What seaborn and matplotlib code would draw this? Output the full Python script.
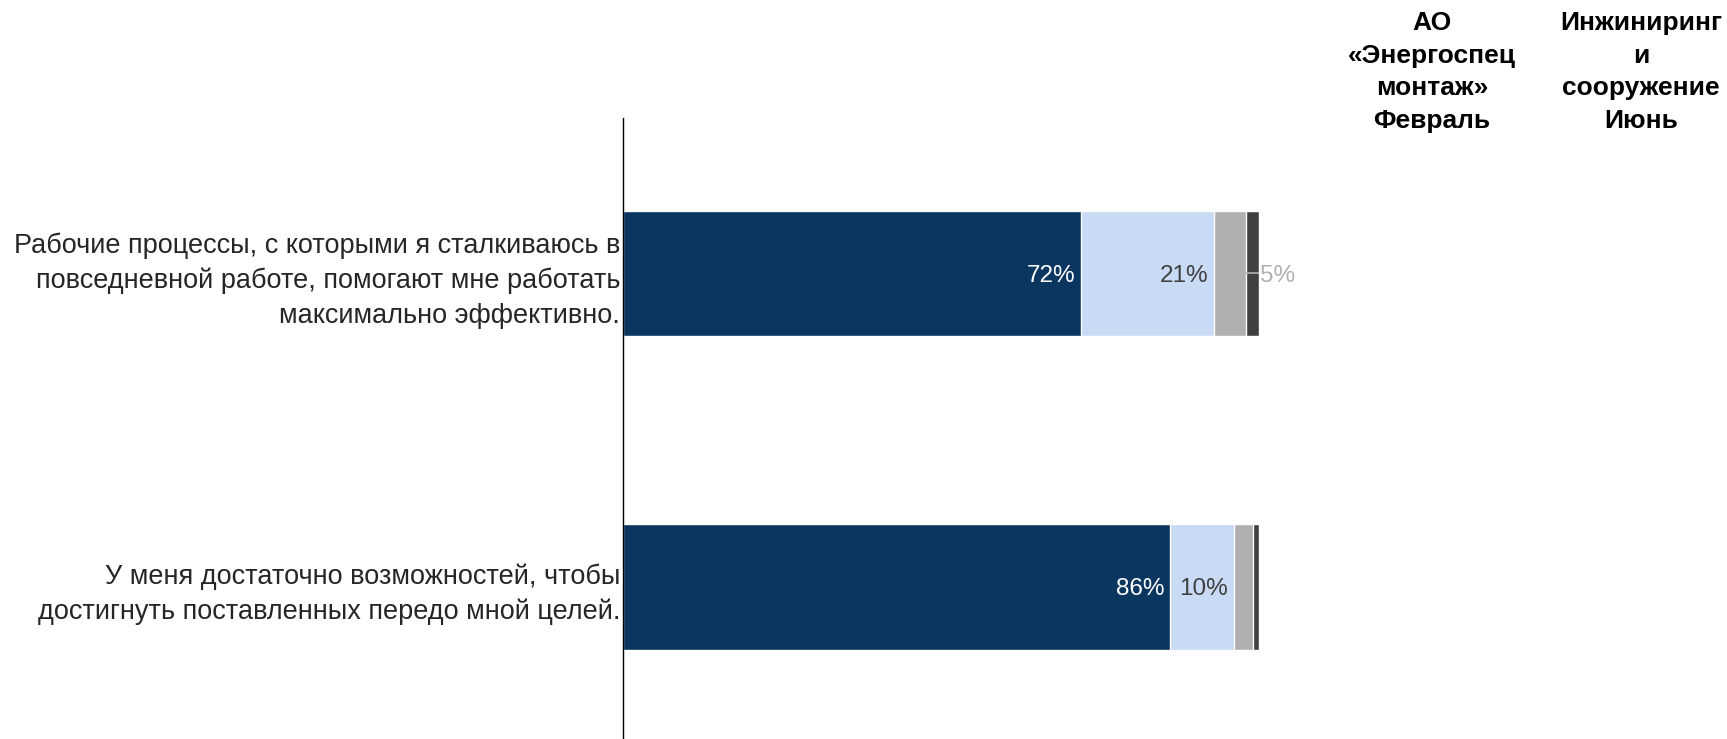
import matplotlib
matplotlib.use("Agg")
import matplotlib.pyplot as plt
import seaborn as sns
import pandas as pd
import numpy as np

sns.set_theme(style="white")
plt.rcParams["font.family"] = ["Liberation Sans", "DejaVu Sans"]

questions = [
    "Рабочие процессы, с которыми я сталкиваюсь в\nповседневной работе, помогают мне работать\nмаксимально эффективно.",
    "У меня достаточно возможностей, чтобы\nдостигнуть поставленных передо мной целей.",
]
agree = [72, 86]
neutral = [21, 10]
disagree = [5, 3]
strongly_disagree = [2, 1]

column_headers = ["АО\n«Энергоспец\nмонтаж»\nФевраль", "Инжиниринг\nи\nсооружение\nИюнь"]

segments = [agree, neutral, disagree, strongly_disagree]
colors = ["#0b3660", "#c9daf5", "#b0b0b0", "#404040"]
text_colors = ["white", "#404040", "#b0b0b0", "#b0b0b0"]

fig = plt.figure(figsize=(17.27, 7.39), dpi=100)
ax = fig.add_axes([623 / 1727, 0.0, (1259 - 623) / 1727, 1 - 118 / 739])

cum = np.cumsum(np.array(segments), axis=0)
df = pd.DataFrame({"question": questions})

# Stacked bars: draw the widest cumulative total first, then overlay the shorter ones
for i in reversed(range(len(segments))):
    df["value"] = cum[i]
    sns.barplot(data=df, x="value", y="question", color=colors[i], orient="h",
                width=0.4, edgecolor="white", linewidth=1, saturation=1, ax=ax)

ax.set_xlim(0, 100)
ax.set_ylim(1.485, -0.496)
ax.set_xlabel("")
ax.set_ylabel("")
ax.set_xticks([])
ax.tick_params(axis="y", length=0, pad=2)
for lbl in ax.get_yticklabels():
    lbl.set_fontsize(19.5)
    lbl.set_color("#262626")
    lbl.set_multialignment("right")
    lbl.set_linespacing(1.44)
for s in ["top", "right", "bottom"]:
    ax.spines[s].set_visible(False)
ax.spines["left"].set_color("black")
ax.spines["left"].set_linewidth(1)

# Value labels
for row in range(len(questions)):
    for i, seg in enumerate(segments):
        v = seg[row]
        end = cum[i][row]
        if v >= 8:
            ax.text(end - 0.9, row, f"{v}%", ha="right", va="center_baseline",
                    fontsize=17.5, color=text_colors[i])
        elif v >= 5:
            ax.plot([end, 100], [row, row], color="#b0b0b0", linewidth=1.2, zorder=5)
            ax.text(100.1, row, f"{v}%", ha="left", va="center_baseline",
                    fontsize=17.5, color=text_colors[i], clip_on=False)

# Column headers
for xc, head in zip([1432 / 1727, 1641 / 1727], column_headers):
    fig.text(xc, 1 - 11 / 739, head, ha="center", va="top", fontsize=19,
             fontweight="bold", color="black", linespacing=1.45)

fig.savefig("out.png", dpi=100)
